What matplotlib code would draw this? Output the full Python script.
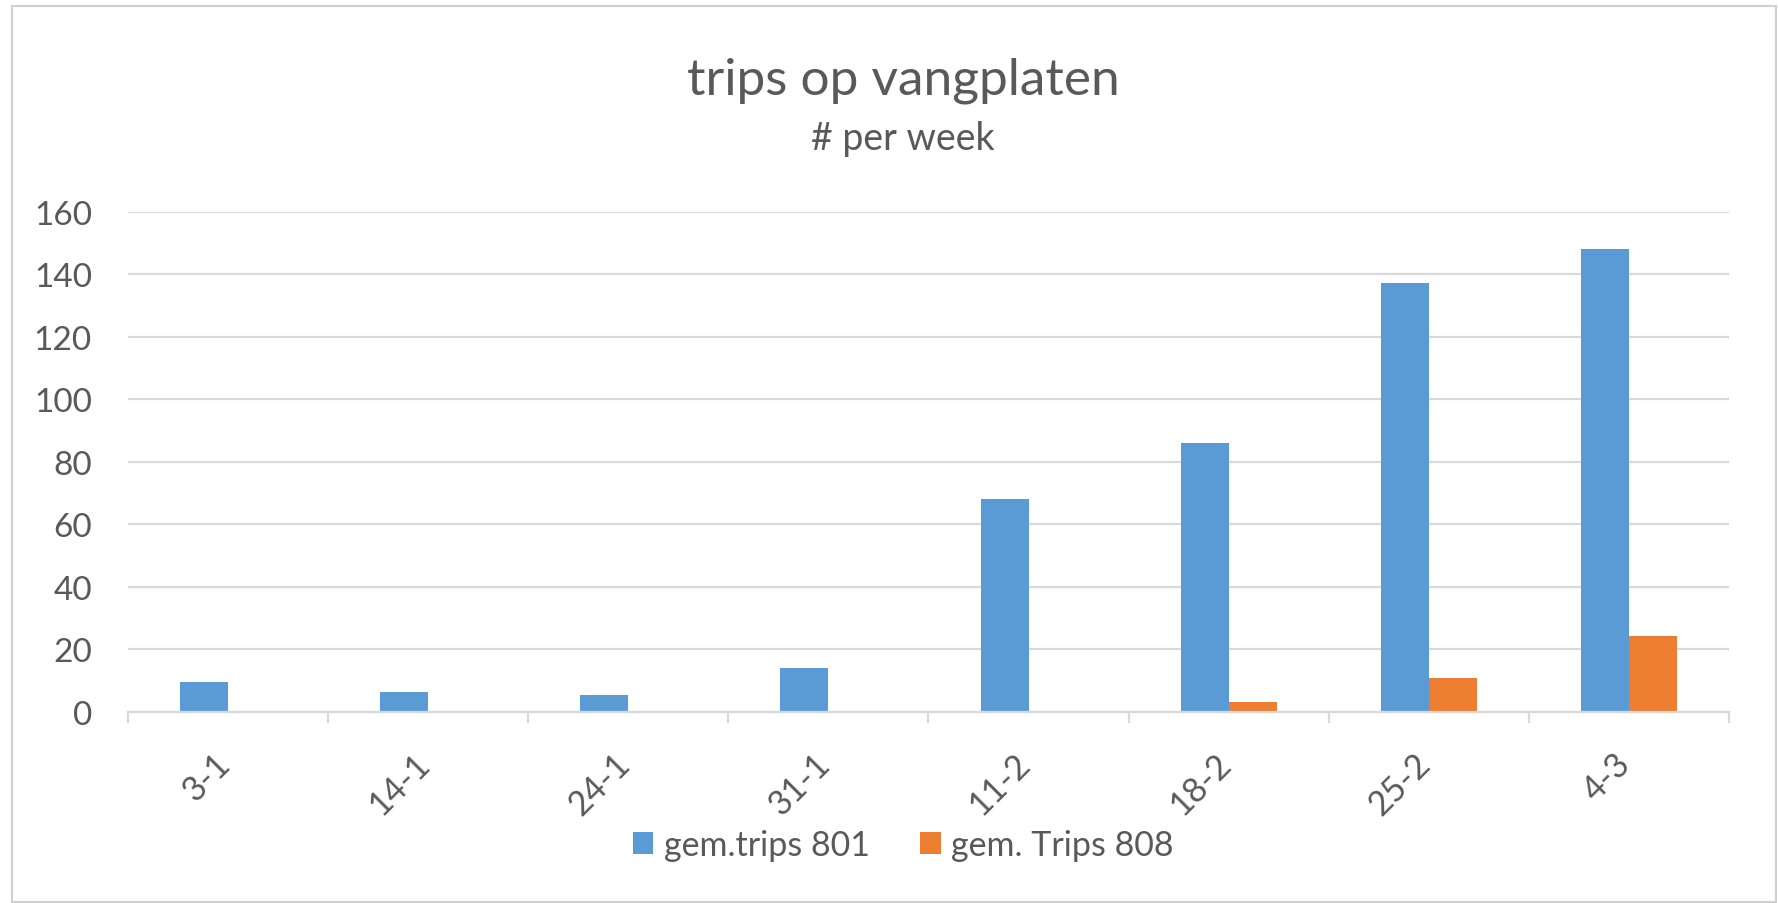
import matplotlib
matplotlib.use('Agg')
import matplotlib.pyplot as plt
import matplotlib.transforms as mtransforms
from matplotlib.patches import Rectangle
import numpy as np

#------------------------------------------------------------------------#
# Data
#------------------------------------------------------------------------#
weeks = ['3-1', '14-1', '24-1', '31-1', '11-2', '18-2', '25-2', '4-3']
trips_801 = [9.5, 6.3, 5.5, 14.1, 68.0, 86.0, 137.4, 148.3]
trips_808 = [0, 0, 0, 0, 0, 3.1, 10.9, 24.4]
labels = ['gem.trips 801', 'gem. Trips 808']
yticks = [0, 20, 40, 60, 80, 100, 120, 140, 160]

blue = '#5B9BD5'
orange = '#ED7D31'
grid = '#D9D9D9'
txt = '#595959'

plt.rcParams['font.family'] = ['Lato', 'DejaVu Sans']

#------------------------------------------------------------------------#
# Plot
#------------------------------------------------------------------------#
fig = plt.figure(figsize=(17.78, 9.04), dpi=100)
ax = fig.add_axes([0.072, 0.2113, 0.9004, 0.5531])

x = np.arange(len(weeks))
w = 0.24
ax.bar(x - w / 2, trips_801, width=w, color=blue, label=labels[0], zorder=3)
ax.bar(x + w / 2, trips_808, width=w, color=orange, label=labels[1], zorder=3)

ax.set_xlim(-0.5, len(weeks) - 0.5)
ax.set_ylim(0, 160)
ax.set_yticks(yticks)
ax.yaxis.grid(True, color=grid, linewidth=1.6, zorder=0)
ax.set_axisbelow(True)

for s in ['top', 'right', 'left']:
    ax.spines[s].set_visible(False)
ax.spines['bottom'].set_color(grid)
ax.spines['bottom'].set_linewidth(1.6)
ax.spines['bottom'].set_zorder(4)

ax.tick_params(axis='y', length=0, pad=26, labelsize=24, labelcolor=txt)

# tick marks sit between the categories, labels at the centres
ax.set_xticks(np.arange(-0.5, len(weeks)), minor=False)
ax.set_xticklabels([])
ax.tick_params(axis='x', which='major', length=8, width=1.6, color=grid, direction='out')
ax.set_xticks(x, minor=True)
ax.set_xticklabels(weeks, minor=True, rotation=45, ha='right', va='top')
ax.tick_params(axis='x', which='minor', length=0, pad=25, labelsize=24.5, labelcolor=txt)
shift = mtransforms.ScaledTranslation(8 / 100, 0, fig.dpi_scale_trans)
for lab in ax.get_xticklabels(minor=True):
    lab.set_transform(lab.get_transform() + shift)

fig.text(0.508, 1 - 95 / 904, 'trips op vangplaten', ha='center', va='baseline',
         fontsize=37, color=txt)
fig.text(0.508, 1 - 150 / 904, '# per week', ha='center', va='baseline',
         fontsize=27, color=txt)

fig.legend(loc='center', bbox_to_anchor=(0.508, 1 - 846 / 904), ncol=2, frameon=False,
           fontsize=24.5, labelcolor=txt, handlelength=0.6, handleheight=0.6,
           handletextpad=0.3, columnspacing=1.5)

# chart border
fig.patches.append(Rectangle((12 / 1778, 0.001), 1 - 14 / 1778, 1 - 8 / 904,
                             transform=fig.transFigure, fill=False,
                             edgecolor='#D0D0D0', linewidth=1.5))

plt.savefig('out.png', dpi=100)
